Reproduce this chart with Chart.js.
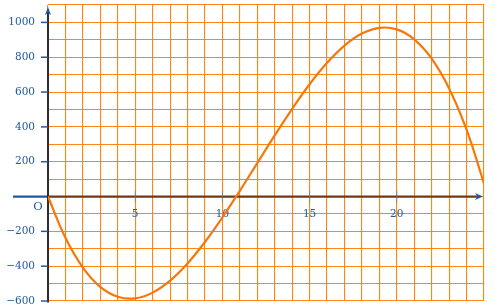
<!DOCTYPE html>
<html>
<head>
<meta charset="utf-8">
<script src="https://cdn.jsdelivr.net/npm/chart.js@4/dist/chart.umd.min.js"></script>
<style>
  html, body { margin: 0; padding: 0; background: #fff; }
  #wrap { width: 494px; height: 308px; }
</style>
</head>
<body>
<div id="wrap"><canvas id="graph" width="494" height="308"></canvas></div>
<script>
/* ---------- DATA ---------- */
const xValues = [0, 1, 2, 3, 4, 5, 6, 7, 8, 9, 10, 11, 12, 13, 14, 15, 16, 17, 18, 19, 20, 21, 22, 23, 24, 25];
const yValues = [0, -237, -408, -519, -576, -585, -552, -483, -384, -261, -120, 33, 192, 351, 504, 645, 768, 867, 936, 969, 960, 903, 792, 621, 384, 75];
const xTickLabels = [5, 10, 15, 20];
const yTickLabels = [-600, -400, -200, 200, 400, 600, 800, 1000];

const BLUE = '#1f5aa0';
const GRID = 'rgb(255,135,15)';
const FONT = '"DejaVu Serif", serif';

/* ---------- AXES, ARROWS, ORIGIN ---------- */
const axesPlugin = {
  id: 'axes',
  beforeDatasetsDraw(chart) {
    const { ctx, chartArea: a, scales: { x, y } } = chart;
    const x0 = x.getPixelForValue(0);
    const y0 = y.getPixelForValue(0);
    ctx.save();

    // x axis: blue stub left of origin, brown to the right
    ctx.lineWidth = 2.2;
    ctx.strokeStyle = BLUE;
    ctx.beginPath(); ctx.moveTo(13, y0); ctx.lineTo(x0, y0); ctx.stroke();
    ctx.strokeStyle = '#6a3b14';
    ctx.beginPath(); ctx.moveTo(x0, y0); ctx.lineTo(478, y0); ctx.stroke();
    // x arrow
    ctx.fillStyle = BLUE;
    ctx.beginPath();
    ctx.moveTo(483, y0); ctx.lineTo(475, y0 - 3.5); ctx.lineTo(477.5, y0); ctx.lineTo(475, y0 + 3.5);
    ctx.closePath(); ctx.fill();

    // y axis
    ctx.strokeStyle = '#352b2b';
    ctx.lineWidth = 2;
    ctx.beginPath(); ctx.moveTo(x0, 12); ctx.lineTo(x0, a.bottom + 1.5); ctx.stroke();
    ctx.fillStyle = BLUE;
    ctx.beginPath();
    ctx.moveTo(x0, 7); ctx.lineTo(x0 - 3, 15); ctx.lineTo(x0, 13); ctx.lineTo(x0 + 3, 15);
    ctx.closePath(); ctx.fill();

    // y tick dashes
    ctx.strokeStyle = BLUE;
    ctx.lineWidth = 1.5;
    yTickLabels.forEach(v => {
      const py = y.getPixelForValue(v);
      ctx.beginPath(); ctx.moveTo(x0 - 7, py); ctx.lineTo(x0, py); ctx.stroke();
    });

    // x tick marks + labels
    ctx.font = '10.5px ' + FONT;
    ctx.textAlign = 'center';
    ctx.textBaseline = 'middle';
    xTickLabels.forEach(v => {
      const px = x.getPixelForValue(v);
      ctx.strokeStyle = 'rgba(90,130,180,0.7)';
      ctx.lineWidth = 1;
      ctx.beginPath(); ctx.moveTo(px, y0 - 6); ctx.lineTo(px, y0 + 6); ctx.stroke();
      ctx.fillStyle = BLUE;
      ctx.fillText(String(v), px, y0 + 18);
    });

    // origin
    ctx.font = '11.5px ' + FONT;
    ctx.fillText('O', x0 - 10, y0 + 10);
    ctx.restore();
  }
};

new Chart(document.getElementById('graph'), {
  type: 'line',
  data: {
    datasets: [{
      data: xValues.map((v, i) => ({ x: v, y: yValues[i] })),
      borderColor: '#f5780c',
      borderWidth: 2.2,
      pointRadius: 0,
      fill: false,
      tension: 0.4
    }]
  },
  options: {
    responsive: false,
    animation: false,
    layout: { padding: { top: 5, right: 10, bottom: 7, left: 0 } },
    plugins: { legend: { display: false }, tooltip: { enabled: false } },
    scales: {
      x: {
        type: 'linear', min: 0, max: 25,
        afterFit: s => { s.height = 0; s.paddingLeft = 0; s.paddingRight = 0; },
        border: { display: false },
        grid: { color: GRID, lineWidth: 1.1, drawTicks: false },
        ticks: { display: false, stepSize: 1 }
      },
      y: {
        type: 'linear', min: -600, max: 1100,
        afterFit: s => { s.width = 48; s.paddingTop = 0; s.paddingBottom = 0; },
        border: { display: false },
        grid: { color: GRID, lineWidth: 1.1, drawTicks: false },
        ticks: {
          stepSize: 100, autoSkip: false, padding: 13,
          color: BLUE, font: { family: FONT, size: 10.5 },
          callback: v => yTickLabels.includes(v) ? (v < 0 ? '\u2212' + Math.abs(v) : String(v)) : ''
        }
      }
    }
  },
  plugins: [axesPlugin]
});
</script>
</body>
</html>
